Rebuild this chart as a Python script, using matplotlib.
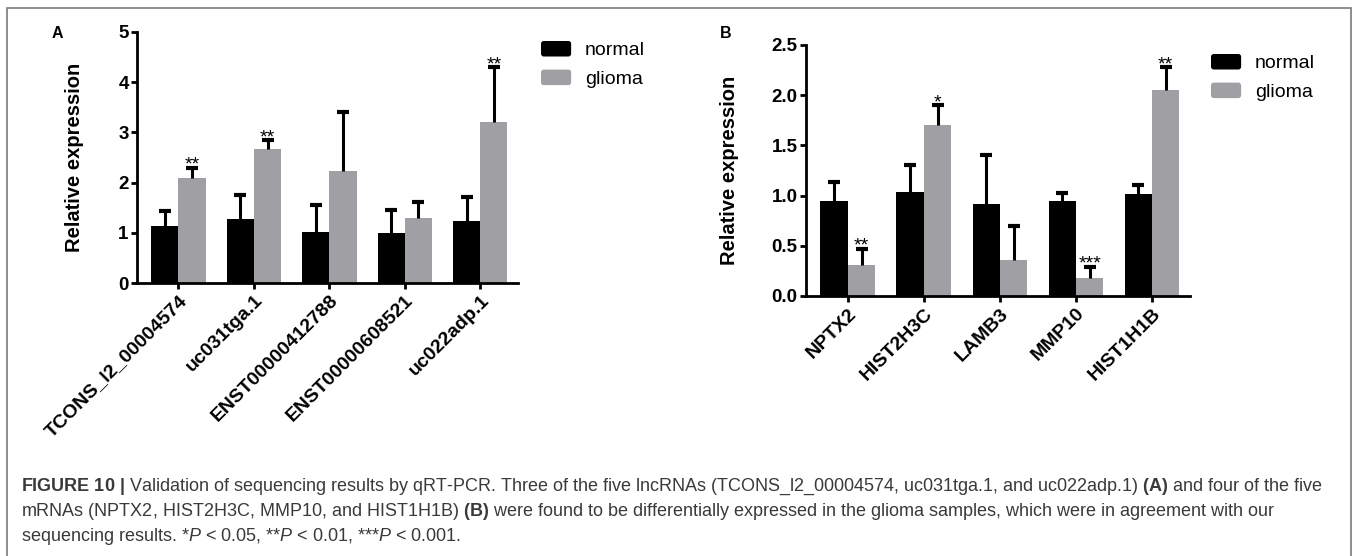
import matplotlib

matplotlib.use("Agg")
import matplotlib.pyplot as plt
from matplotlib.legend_handler import HandlerPatch
from matplotlib.patches import FancyBboxPatch, Patch, Rectangle
import numpy as np

plt.rcParams["font.family"] = ["Liberation Sans", "DejaVu Sans"]
plt.rcParams["mathtext.fontset"] = "custom"
plt.rcParams["mathtext.rm"] = "Liberation Sans"
plt.rcParams["mathtext.bf"] = "Liberation Sans:bold"
plt.rcParams["mathtext.it"] = "Liberation Sans:italic"

# panel A: lncRNAs
lnc_names = ["TCONS_l2_00004574", "uc031tga.1", "ENST00000412788", "ENST00000608521", "uc022adp.1"]
lnc_normal = [1.13, 1.28, 1.02, 1.00, 1.24]
lnc_normal_err = [0.31, 0.47, 0.53, 0.46, 0.48]
lnc_glioma = [2.09, 2.67, 2.23, 1.29, 3.20]
lnc_glioma_err = [0.21, 0.18, 1.17, 0.32, 1.10]
lnc_stars = ["**", "**", "", "", "**"]

# panel B: mRNAs
mrna_names = ["NPTX2", "HIST2H3C", "LAMB3", "MMP10", "HIST1H1B"]
mrna_normal = [0.95, 1.04, 0.92, 0.95, 1.02]
mrna_normal_err = [0.19, 0.26, 0.48, 0.08, 0.09]
mrna_glioma = [0.31, 1.70, 0.36, 0.18, 2.05]
mrna_glioma_err = [0.16, 0.20, 0.34, 0.11, 0.23]
mrna_stars = ["**", "*", "", "***", "**"]

group_labels = ["normal", "glioma"]
colors = ["#000000", "#a09fa4"]

W, H = 1357, 556


class RoundHandler(HandlerPatch):
    def create_artists(self, legend, orig_handle, xdescent, ydescent, width, height, fontsize, trans):
        p = FancyBboxPatch((-xdescent + 2, -ydescent + 2), width - 4, height - 4,
                           boxstyle="round,pad=2", facecolor=orig_handle.get_facecolor(),
                           edgecolor="none", transform=trans)
        return [p]


def panel(rect, names, normal, normal_err, glioma, glioma_err, stars, ymax, step, fmt, legend_xy):
    ax = fig.add_axes(rect)
    x = np.arange(len(names))
    w = 0.36
    for vals, errs, off, c in [(normal, normal_err, -w / 2, colors[0]), (glioma, glioma_err, w / 2, colors[1])]:
        vals = np.array(vals)
        tops = vals + np.array(errs)
        ax.bar(x + off, vals, width=w, color=c, edgecolor="none", zorder=2)
        ax.vlines(x + off, vals, tops, color="black", lw=2.2, zorder=3)
        ax.plot(x + off, tops, ls="none", marker="_", ms=9, mew=3, color="black", zorder=3)
    gtops = np.array(glioma) + np.array(glioma_err)
    for xi, t, s in zip(x, gtops, stars):
        if s:
            ax.annotate(s, (xi + w / 2, t), xytext=(0, -1.5), textcoords="offset points",
                        ha="center", va="baseline", fontsize=14)
    ax.set_xlim(-0.55, len(names) - 0.5)
    ax.set_ylim(0, ymax)
    ax.set_yticks(np.arange(0, ymax + step / 2, step))
    ax.set_yticklabels([fmt % v for v in np.arange(0, ymax + step / 2, step)])
    ax.set_xticks(x)
    ax.set_xticklabels(names, rotation=45, ha="right", rotation_mode="anchor")
    for sp in ["top", "right"]:
        ax.spines[sp].set_visible(False)
    for sp in ["left", "bottom"]:
        ax.spines[sp].set_linewidth(2)
    ax.tick_params(axis="both", width=2, length=4.5, labelsize=13.5, pad=1.5)
    ax.tick_params(axis="x", labelsize=14, pad=2)
    for lab in ax.get_xticklabels() + ax.get_yticklabels():
        lab.set_fontweight("bold")
    ax.set_ylabel("Relative expression", fontsize=14.5, fontweight="bold")
    handles = [Patch(facecolor=c) for c in colors]
    ax.legend(handles, group_labels, loc="upper left", bbox_to_anchor=legend_xy,
              bbox_transform=fig.transFigure, frameon=False, fontsize=14,
              borderpad=0, borderaxespad=0, handlelength=1.55, handleheight=0.85,
              handletextpad=0.7, labelspacing=0.52,
              handler_map={Patch: RoundHandler()})
    return ax


fig = plt.figure(figsize=(W / 100, H / 100), dpi=100)

axA = panel([137 / W, 1 - 283 / H, (518 - 137) / W, (283 - 32) / H],
            lnc_names, lnc_normal, lnc_normal_err, lnc_glioma, lnc_glioma_err, lnc_stars,
            5, 1, "%d", (541 / W, 1 - 41 / H))
axA.yaxis.set_label_coords(84 / W, 1 - 157.5 / H, transform=fig.transFigure)

axB = panel([806 / W, 1 - 296 / H, (1190 - 806) / W, (296 - 45) / H],
            mrna_names, mrna_normal, mrna_normal_err, mrna_glioma, mrna_glioma_err, mrna_stars,
            2.5, 0.5, "%.1f", (1211 / W, 1 - 54 / H))
axB.yaxis.set_label_coords(739 / W, 1 - 170.5 / H, transform=fig.transFigure)

fig.text(57 / W, 1 - 34 / H, "A", fontsize=11.5, fontweight="bold", ha="center", va="center")
fig.text(726 / W, 1 - 34 / H, "B", fontsize=11.5, fontweight="bold", ha="center", va="center")

# outer frame
fig.add_artist(Rectangle((7 / W, -0.05), (1351 - 7) / W, 1.05 - 8 / H, transform=fig.transFigure,
                         fill=False, edgecolor="#7a7a7a", lw=1.2))

caption = [
    r"$\mathbf{FIGURE\ 10\ |}$ Validation of sequencing results by qRT-PCR. Three of the five lncRNAs "
    r"(TCONS_l2_00004574, uc031tga.1, and uc022adp.1) $\mathbf{(A)}$ and four of the five",
    r"mRNAs (NPTX2, HIST2H3C, MMP10, and HIST1H1B) $\mathbf{(B)}$ were found to be differentially "
    r"expressed in the glioma samples, which were in agreement with our",
    r"sequencing results. *$\mathit{P}$ < 0.05, **$\mathit{P}$ < 0.01, ***$\mathit{P}$ < 0.001.",
]
line_y = [491, 516, 541]
texts = [fig.text(21 / W, 1 - y / H, s, fontsize=10, color="#3a3a3a", ha="left", va="baseline")
         for s, y in zip(caption, line_y)]
renderer = fig.canvas.get_renderer()
width0 = texts[0].get_window_extent(renderer).width
size = 10 * (1321 - 21) / width0
for t in texts:
    t.set_fontsize(size)

fig.savefig("out.png", dpi=100)
